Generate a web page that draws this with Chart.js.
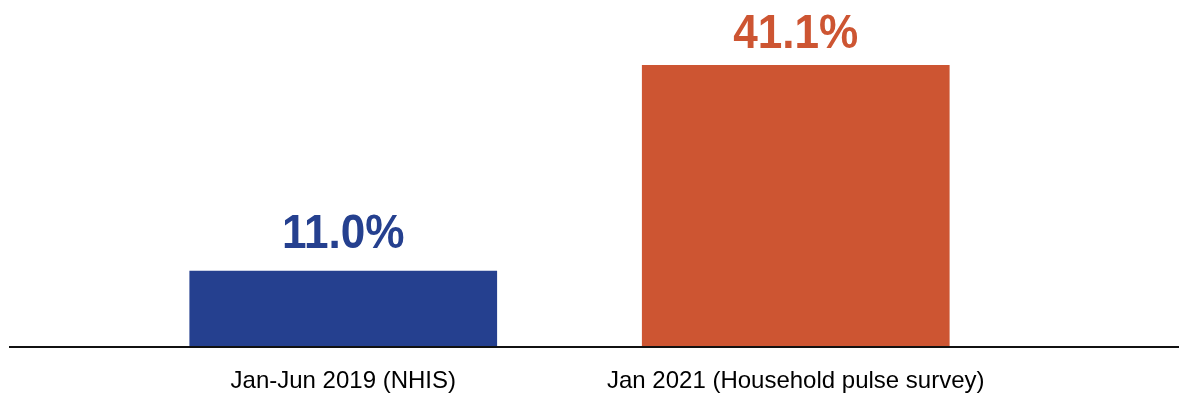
<!DOCTYPE html>
<html>
<head>
<meta charset="utf-8">
<script src="https://cdn.jsdelivr.net/npm/chart.js@4"></script>
<style>
  html, body { margin: 0; padding: 0; background: #ffffff; }
  #wrap { width: 1179px; height: 397px; position: relative; }
</style>
</head>
<body>
<div id="wrap"><canvas id="c" width="1179" height="397"></canvas></div>
<script>
const categories = ["Jan-Jun 2019 (NHIS)", "Jan 2021 (Household pulse survey)"];
const values = [11.0, 41.1];
const valueLabels = ["11.0%", "41.1%"];
const barColors = ["#25408f", "#cd5532"];

const valueLabelPlugin = {
  id: 'valueLabels',
  afterDatasetsDraw(chart, args, opts) {
    const ctx = chart.ctx;
    const meta = chart.getDatasetMeta(0);
    meta.data.forEach((bar, i) => {
      ctx.save();
      ctx.font = opts.font;
      ctx.textAlign = 'center';
      ctx.textBaseline = 'alphabetic';
      ctx.fillStyle = barColors[i];
      ctx.translate(bar.x, bar.y - opts.offsets[i]);
      ctx.scale(opts.squeeze, 1);
      ctx.fillText(valueLabels[i], 0, 0);
      ctx.restore();
    });
  }
};

const baselinePlugin = {
  id: 'baseline',
  afterDatasetsDraw(chart, args, opts) {
    const ctx = chart.ctx;
    const y = chart.scales.y.getPixelForValue(0);
    ctx.save();
    ctx.strokeStyle = '#111111';
    ctx.lineWidth = 2;
    ctx.beginPath();
    ctx.moveTo(opts.left, y + 1);
    ctx.lineTo(opts.right, y + 1);
    ctx.stroke();
    ctx.restore();
  }
};

new Chart(document.getElementById('c'), {
  type: 'bar',
  data: {
    labels: categories,
    datasets: [{
      data: values,
      backgroundColor: barColors,
      borderWidth: 0,
      categoryPercentage: 1.0,
      barPercentage: 0.68
    }]
  },
  options: {
    responsive: false,
    animation: false,
    devicePixelRatio: 1,
    layout: { padding: { left: 117, right: 157, top: 4, bottom: 4 } },
    plugins: {
      legend: { display: false },
      tooltip: { enabled: false },
      valueLabels: { font: 'bold 49px "Liberation Sans", Arial, sans-serif', squeeze: 0.9, offsets: [23, 17] },
      baseline: { left: 9, right: 1179 }
    },
    scales: {
      x: {
        grid: { display: false, drawTicks: false },
        border: { display: false },
        afterFit(scale) { scale.height = 47; },
        ticks: {
          color: '#000000',
          padding: 21,
          maxRotation: 0,
          autoSkip: false,
          font: { family: '"Liberation Sans", Arial, sans-serif', size: 24 }
        }
      },
      y: {
        display: false,
        min: 0,
        max: 50
      }
    }
  },
  plugins: [valueLabelPlugin, baselinePlugin]
});
</script>
</body>
</html>
